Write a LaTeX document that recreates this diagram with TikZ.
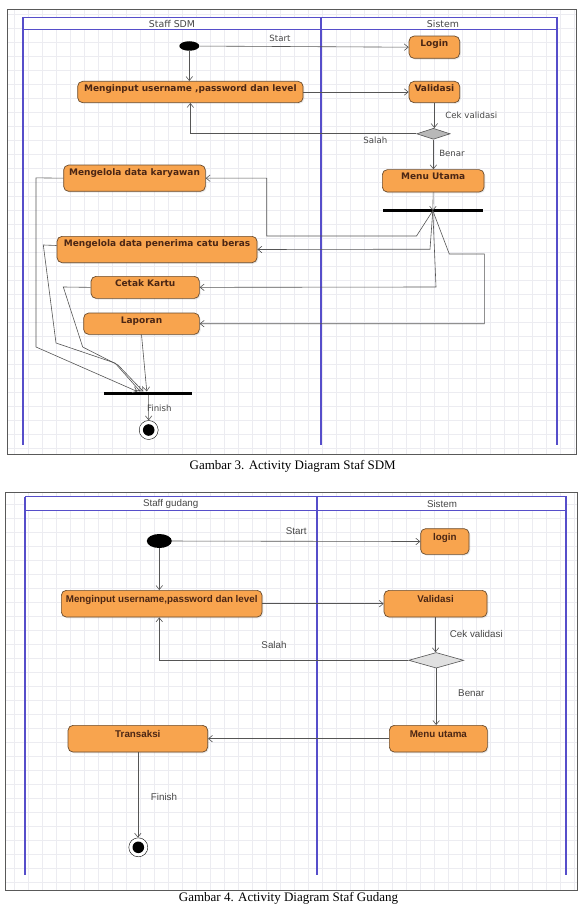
\documentclass[tikz,border=0pt]{standalone}
\usepackage{fontspec}
\setmainfont{Liberation Serif}
\newfontfamily\verdana{DejaVu Sans}
\newfontfamily\arial{Liberation Sans}
\usetikzlibrary{arrows.meta, shapes.geometric, shadows}

\definecolor{actfill}{RGB}{248,164,78}
\definecolor{actdraw}{RGB}{105,75,45}
\definecolor{acttext}{RGB}{75,38,20}
\definecolor{lanecol}{RGB}{86,78,202}
\definecolor{flowcol}{RGB}{85,85,85}
\definecolor{gridcol}{RGB}{236,236,241}

\tikzset{
  act/.style={draw=actdraw, fill=actfill, rounded corners=5pt, inner sep=0pt,
    line width=0.7pt, text=acttext, anchor=north west,
    drop shadow={opacity=0.18, shadow xshift=1.2pt, shadow yshift=-1.2pt}},
  actone/.style={act, text height=10.3pt, font=\verdana\bfseries\fontsize{9}{10}\selectfont},
  acttwo/.style={act, text height=11.8pt, font=\arial\bfseries\fontsize{9.8}{11}\selectfont},
  flow/.style={draw=flowcol, line width=0.6pt, -{Straight Barb[length=4pt,width=6.5pt]}},
  startdot/.style={ellipse, fill=black, inner sep=0pt},
  enddot/.style={circle, draw=black, fill=white, minimum size=19pt, inner sep=0pt,
    path picture={\fill[black] (path picture bounding box.center) circle (5.8pt);}},
  syncbar/.style={fill=black, inner sep=0pt, minimum height=3.2pt},
  decision/.style={diamond, draw=flowcol, inner sep=0pt, line width=0.6pt},
  lblone/.style={text=black!72, inner sep=0pt, font=\verdana\fontsize{8.6}{10}\selectfont},
  lbltwo/.style={text=black!72, inner sep=0pt, font=\arial\fontsize{9.8}{11}\selectfont},
  lane/.style={draw=lanecol, line width=1.8pt},
  frame/.style={draw=black!65, line width=1pt},
}

\begin{document}
\begin{tikzpicture}[x=1pt, y=-1pt]

\useasboundingbox[fill=white] (0,0) rectangle (582,904);

% ---- Gambar 3: Staf SDM ----
\begin{scope}
\clip (7.3,9.3) rectangle (576,454);
\foreach \gx in {14,28,...,576} \draw[gridcol, line width=0.25pt] (\gx,9.3) -- (\gx,454);
\foreach \gy in {14,28,...,454} \draw[gridcol, line width=0.25pt] (7.3,\gy) -- (576,\gy);
\end{scope}
\draw[frame] (7.3,9.3) rectangle (576,454);

\draw[draw=lanecol, fill=white, line width=1pt] (22.7,17.3) rectangle (557.3,30);
\draw[lane] (22.7,17.3) -- (22.7,445);
\draw[lane] (321.3,17.3) -- (321.3,445);
\draw[lane] (557.3,17.3) -- (557.3,445);
\node[lblone, font=\verdana\fontsize{9.4}{10}\selectfont] (laneA1) at (172,24) {Staff SDM};
\node[lblone, font=\verdana\fontsize{9.4}{10}\selectfont] (laneB1) at (443,24) {Sistem};

\node[startdot, minimum width=20pt, minimum height=9.5pt] (start1) at (189.3,46) {};
\node[actone, minimum width=50.6pt, text depth=12pt] (login1) at (408.7,35.7) {Login};
\node[actone, minimum width=225.4pt, text depth=11pt] (input1) at (77.3,81) {Menginput username ,password dan level};
\node[actone, minimum width=50.6pt, text depth=11pt] (valid1) at (408.7,81) {Validasi};
\node[decision, fill=black!28, minimum width=33.4pt, minimum height=11pt] (dia1) at (433.4,133.8) {};
\node[actone, minimum width=141.7pt, text depth=16pt] (karyawan1) at (63.3,164.7) {Mengelola data karyawan};
\node[actone, minimum width=101.7pt, text depth=12.1pt] (menu1) at (382,169.3) {Menu Utama};
\node[syncbar, minimum width=100.3pt] (fork1) at (432.8,210.7) {};
\node[actone, minimum width=200pt, text depth=16pt] (penerima1) at (56.7,236) {Mengelola data penerima catu beras};
\node[actone, minimum width=108.3pt, text depth=11.7pt] (cetak1) at (90.7,276) {Cetak Kartu};
\node[actone, minimum width=115.7pt, text depth=11pt] (laporan1) at (83.3,312.7) {Laporan};
\node[syncbar, minimum width=88pt] (join1) at (148.3,393.3) {};
\node[enddot] (end1) at (148.7,430) {};

\node[lblone] (lstart1) at (280,38.7) {Start};
\node[lblone] (lcek1) at (471.3,115.3) {Cek validasi};
\node[lblone] (lsalah1) at (375.3,140.7) {Salah};
\node[lblone] (lbenar1) at (452,153.7) {Benar};
\node[lblone] (lfinish1) at (159.3,408.3) {Finish};

\draw[flow] (start1) -- (login1.west);
\draw[flow] (start1) -- (start1 |- input1.north);
\draw[flow] (input1.east) -- (valid1.west);
\draw[flow] (valid1.south) -- (valid1.south |- dia1.north);
\draw[flow] (dia1.west) -| (input1.south);
\draw[flow] (dia1.south) -- (dia1.south |- menu1.north);
\draw[flow] (menu1.south) -- (fork1.center);
\draw[flow] (fork1.center) -- (416.5,236) -- (266.7,236) |- (karyawan1.east);
\draw[flow] (fork1.center) -- (430,249.2) -- (penerima1.east);
\draw[flow] (fork1.center) -- (436,287) -- (cetak1.east);
\draw[flow] (fork1.center) -- (449.3,254) -- (484.3,254) |- (laporan1.east);
\draw[flow] (karyawan1.west) -- (36,177.85) -- (36,347) -- ([xshift=-11pt]join1.north);
\draw[flow] ([yshift=4pt]penerima1.west) -- (43.3,245) -- (56,343) -- (115,363) -- ([xshift=-8pt]join1.north);
\draw[flow] (cetak1.west) -- (63.3,287) -- (82.7,347) -- (118,365) -- ([xshift=-5pt]join1.north);
\draw[flow] (laporan1.south) -- ([xshift=-1.5pt]join1.north);
\draw[flow] (join1.south) -- (end1.north);

\node[font=\fontsize{13}{15}\selectfont, inner sep=0pt] (cap1) at (292.7,466) {Gambar 3. Activity Diagram Staf SDM};

% ---- Gambar 4: Staf Gudang ----
\begin{scope}
\clip (5,492.7) rectangle (577.3,890);
\foreach \gx in {14,28,...,578} \draw[gridcol, line width=0.25pt] (\gx,492.7) -- (\gx,890);
\foreach \gy in {504,518,...,890} \draw[gridcol, line width=0.25pt] (5,\gy) -- (577.3,\gy);
\end{scope}
\draw[frame] (5,492.7) rectangle (577.3,890);

\draw[draw=lanecol, fill=white, line width=1pt] (25,496.7) rectangle (566.3,510.7);
\draw[lane] (25,496.7) -- (25,875);
\draw[lane] (316.7,496.7) -- (316.7,875);
\draw[lane] (566.3,496.7) -- (566.3,875);
\node[lbltwo] (laneA2) at (170.7,504) {Staff gudang};
\node[lbltwo] (laneB2) at (442,504) {Sistem};

\node[startdot, minimum width=25pt, minimum height=14pt] (start2) at (159.3,541) {};
\node[acttwo, minimum width=48.4pt, text depth=13.9pt] (login2) at (420.3,528.3) {login};
\node[acttwo, minimum width=200.7pt, text depth=14.9pt] (input2) at (61,590) {Menginput username,password dan level};
\node[acttwo, minimum width=103pt, text depth=14.9pt] (valid2) at (383.7,590) {Validasi};
\node[decision, fill=black!12, minimum width=55pt, minimum height=15.6pt] (dia2) at (436.2,660.3) {};
\node[acttwo, minimum width=98pt, text depth=14.9pt] (menu2) at (389,725) {Menu utama};
\node[acttwo, minimum width=139.6pt, text depth=14.9pt] (trans2) at (67.7,725) {Transaksi};
\node[enddot] (end2) at (138.3,847.3) {};

\node[lbltwo] (lstart2) at (296.3,531) {Start};
\node[lbltwo] (lcek2) at (476.3,634) {Cek validasi};
\node[lbltwo] (lsalah2) at (274,645) {Salah};
\node[lbltwo] (lbenar2) at (471.3,692.7) {Benar};
\node[lbltwo] (lfinish2) at (164,796.7) {Finish};

\draw[flow] (start2) -- (login2.west);
\draw[flow] (start2) -- (start2 |- input2.north);
\draw[flow] (input2.east) -- (valid2.west);
\draw[flow] (valid2.south) -- (valid2.south |- dia2.north);
\draw[flow] (dia2.west) -| (start2 |- input2.south);
\draw[flow] (dia2.south) -- (dia2.south |- menu2.north);
\draw[flow] (menu2.west) -- (trans2.east);
\draw[flow] (trans2.south) -- (trans2.south |- end2.north);

\node[font=\fontsize{13}{15}\selectfont, inner sep=0pt] (cap2) at (288.5,898) {Gambar 4. Activity Diagram Staf Gudang};

\end{tikzpicture}
\end{document}
